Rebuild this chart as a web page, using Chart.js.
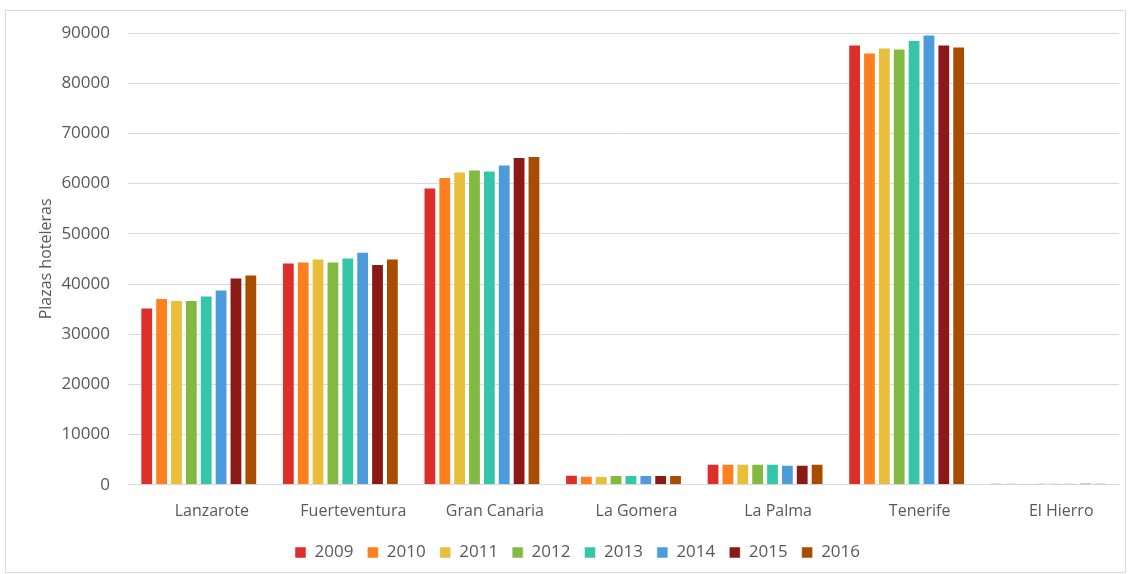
<!DOCTYPE html>
<html lang="es">
<head>
<meta charset="UTF-8">
<script src="https://cdn.jsdelivr.net/npm/chart.js"></script>
<style>
    body { margin: 0; background: #fff; font-family: "Open Sans", sans-serif; }
    #marco { position: absolute; left: 5px; top: 10px; width: 1119px; height: 561px; border: 1px solid #d9d9d9; }
</style>
</head>
<body>
<div id="marco"><canvas id="myChart"></canvas></div>
<script>
    // islas y plazas hoteleras por año
    var islas = ['Lanzarote', 'Fuerteventura', 'Gran Canaria', 'La Gomera', 'La Palma', 'Tenerife', 'El Hierro'];
    var anios = ['2009', '2010', '2011', '2012', '2013', '2014', '2015', '2016'];
    var colores = ['#dc2f2a', '#fd7f1e', '#e8be3a', '#82b941', '#35c6aa', '#4c9bdc', '#8b1a17', '#a84c00'];

    var p2009 = [35300, 44300, 59200, 2000, 4200, 87700, 300];
    var p2010 = [37200, 44500, 61300, 1800, 4200, 86100, 300];
    var p2011 = [36800, 45100, 62400, 1750, 4200, 87100, 300];
    var p2012 = [36800, 44500, 62800, 1950, 4200, 86900, 300];
    var p2013 = [37700, 45300, 62600, 1950, 4200, 88600, 300];
    var p2014 = [38900, 46400, 63800, 1950, 4000, 89700, 300];
    var p2015 = [41300, 44000, 65300, 1950, 4000, 87700, 350];
    var p2016 = [41900, 45100, 65500, 1950, 4200, 87300, 300];
    var series = [p2009, p2010, p2011, p2012, p2013, p2014, p2015, p2016];

    var datasets = [];
    for (let i = 0; i < anios.length; i++) {
        datasets.push({
            label: anios[i],
            data: series[i],
            backgroundColor: colores[i],
            borderColor: 'rgba(255,255,255,0.5)',
            borderWidth: 1,
            barPercentage: 0.86,
            categoryPercentage: 0.84
        });
    }

    var texto = '#595959';
    var fuente = { family: '"Open Sans", sans-serif', size: 16 };
    var fuenteNum = { family: '"Open Sans", sans-serif', size: 17 };

    new Chart(document.getElementById('myChart'), {
        type: 'bar',
        data: { labels: islas, datasets: datasets },
        options: {
            responsive: true,
            maintainAspectRatio: false,
            animation: false,
            layout: { padding: { top: 22, right: 6, bottom: 1, left: 30 } },
            plugins: {
                tooltip: { enabled: false },
                legend: {
                    position: 'bottom',
                    labels: { boxWidth: 11, boxHeight: 11, color: texto, font: fuenteNum, padding: 14 }
                }
            },
            scales: {
                x: {
                    grid: { display: false },
                    border: { color: '#d9d9d9' },
                    ticks: { color: texto, font: fuente, padding: 9, labelOffset: 13 }
                },
                y: {
                    min: 0,
                    max: 90000,
                    afterFit: function (scale) {
                        scale.width = 92;
                        scale.paddingTop = 10;
                        scale.paddingBottom = 10;
                    },
                    grid: { color: '#d9d9d9', drawTicks: false },
                    border: { display: false },
                    ticks: {
                        stepSize: 10000, color: texto, font: fuenteNum, padding: 18,
                        callback: function (v) { return String(v); }
                    },
                    title: { display: true, text: 'Plazas hoteleras', color: texto, font: fuente, padding: { top: 1 } }
                }
            }
        }
    });
</script>
</body>
</html>
